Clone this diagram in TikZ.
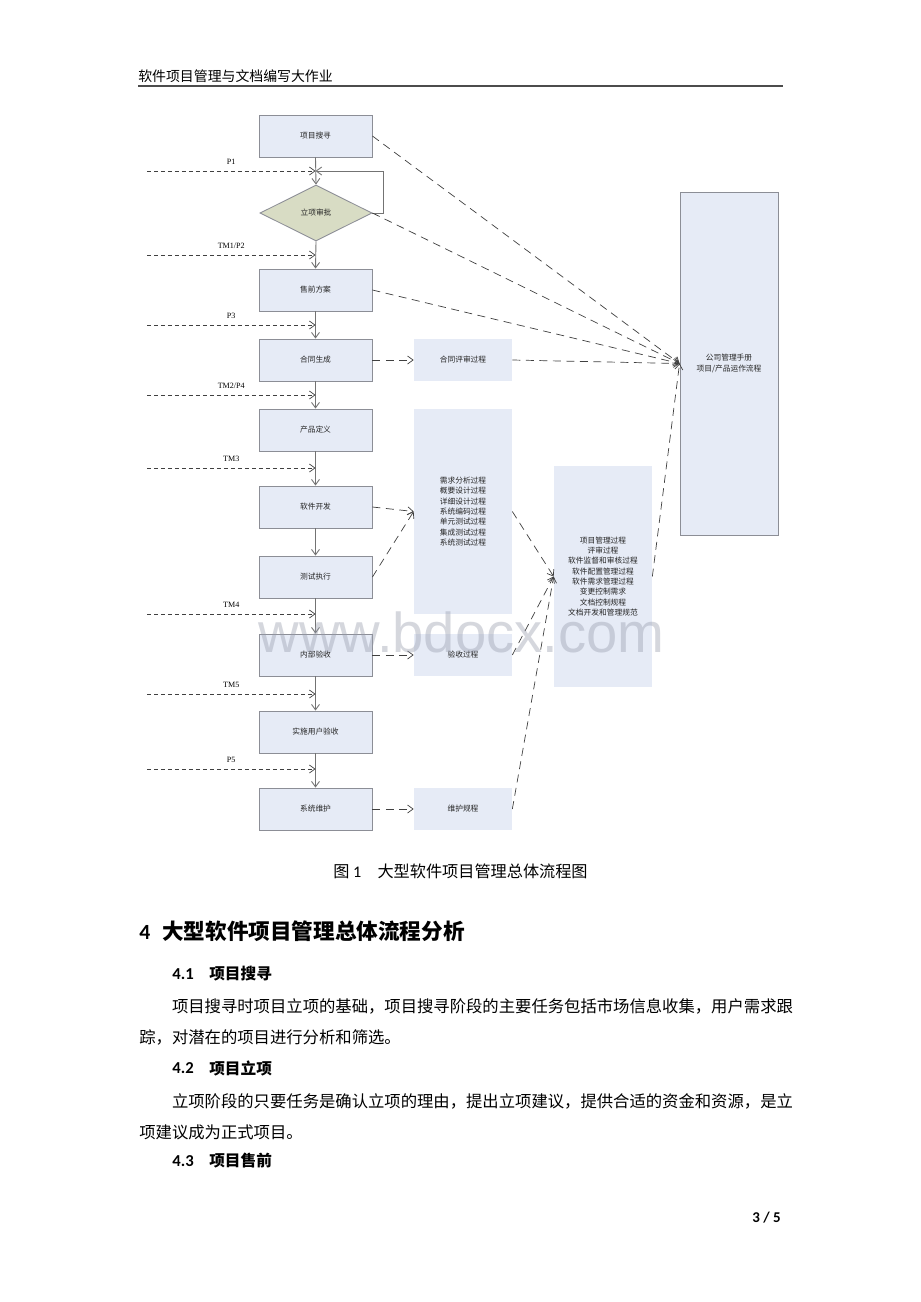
\documentclass[tikz,border=0pt]{standalone}
\usepackage{fontspec}
\setmainfont{Liberation Serif}
\newfontfamily\cjk{Noto Sans CJK SC}
\newfontfamily\cali{Carlito}
\newfontfamily\wmfont{Liberation Sans}
\usetikzlibrary{arrows.meta, shapes.geometric}
\XeTeXlinebreaklocale "zh"
\XeTeXlinebreakskip=0pt plus 1pt minus 1pt
\definecolor{boxblue}{RGB}{230,235,246}
\definecolor{boxline}{RGB}{140,142,150}
\definecolor{diaolive}{RGB}{216,220,196}
\definecolor{wmgray}{RGB}{150,155,172}

\begin{document}
\begin{tikzpicture}[x=0.02cm, y=-0.02cm,
  tiny/.style={font=\cjk\fontsize{4.4}{5.9}\selectfont, text=black!85},
  box/.style={tiny, draw=boxline, line width=0.5pt, fill=boxblue, minimum width=2.26cm, minimum height=0.84cm},
  procbox/.style={tiny, fill=boxblue, minimum width=1.96cm, minimum height=0.84cm, align=center},
  flow/.style={draw=black!55, line width=0.5pt, -{Straight Barb[length=1.1mm,width=1.6mm]}},
  feed/.style={draw=black!75, line width=0.4pt, dash pattern=on 0.8mm off 0.6mm, -{Straight Barb[length=1.1mm,width=1.6mm]}},
  ref/.style={draw=black!75, line width=0.4pt, dash pattern=on 1.6mm off 1.1mm, -{Straight Barb[length=1.1mm,width=1.6mm]}},
  txt/.style={anchor=west, inner sep=0pt},
  body/.style={txt, font=\cjk\fontsize{9.3}{11}\selectfont}]
\fill[white] (0,0) rectangle (920,1302);
\useasboundingbox (0,0) rectangle (920,1302);

\node[txt, font=\cjk\fontsize{7.9}{9}\selectfont] (header) at (138,76) {软件项目管理与文档编写大作业};
\draw[black!70, line width=0.9pt] (138,86) -- (783,86);

\node[box] (search) at (315.5,136) {项目搜寻};
\node[tiny, diamond, draw=boxline, line width=0.5pt, fill=diaolive, aspect=2, inner sep=0pt, minimum width=2.24cm, minimum height=1.12cm] (approve) at (316,213) {立项审批};
\node[box] (presale) at (315.5,290) {售前方案};
\node[box] (contract) at (315.5,360) {合同生成};
\node[box] (define) at (315.5,430) {产品定义};
\node[box] (develop) at (315.5,507) {软件开发};
\node[box] (test) at (315.5,577) {测试执行};
\node[box] (inner) at (315.5,655) {内部验收};
\node[box] (useracc) at (315.5,732) {实施用户验收};
\node[box] (maintain) at (315.5,809) {系统维护};

\node[procbox] (review) at (463,360) {合同评审过程};
\node[procbox, minimum height=4.1cm] (procs) at (463,511.5) {需求分析过程\\概要设计过程\\详细设计过程\\系统编码过程\\单元测试过程\\集成测试过程\\系统测试过程};
\node[procbox] (accproc) at (463,655) {验收过程};
\node[procbox] (mainproc) at (463,809) {维护规程};
\node[procbox, minimum height=4.42cm] (mgmt) at (603,576.5) {项目管理过程\\评审过程\\软件监督和审核过程\\软件配置管理过程\\软件需求管理过程\\变更控制需求\\文档控制规程\\文档开发和管理规范};
\node[procbox, draw=boxline, line width=0.5pt, minimum height=6.86cm] (manual) at (729,363.5) {公司管理手册\\项目/产品运作流程};

\foreach \a/\b in {search/approve, approve/presale, presale/contract, contract/define, define/develop, develop/test, test/inner, inner/useracc, useracc/maintain}
  \draw[flow] (\a.south) -- (\b.north);

\foreach \yy/\lab [count=\k] in {171/P1, 255/{TM1/P2}, 325/P3, 395/{TM2/P4}, 468/TM3, 614/TM4, 694/TM5, 769/P5}{
  \coordinate (feed\k) at (147,\yy);
  \draw[feed] (feed\k) -- (feed\k -| search.south) node[midway, above=0.2pt, font=\fontsize{4.6}{5}\selectfont] {\lab};
}
\coordinate (loop) at (383,171);
\draw[flow] (approve.east) -| (loop) -- (feed1 -| search.south);

\foreach \a in {search, approve, presale, review, mgmt}
  \draw[ref] (\a.east) -- (manual.west);
\foreach \a/\b in {contract/review, develop/procs, test/procs, inner/accproc, maintain/mainproc, procs/mgmt, accproc/mgmt, mainproc/mgmt}
  \draw[ref] (\a.east) -- (\b.west);

\node[txt, font=\cjk\fontsize{9.2}{10}\selectfont] (caption) at (333,871) {图{\cali\ 1}\hspace{1em}大型软件项目管理总体流程图};
\node[txt, font=\cjk\bfseries\fontsize{12.3}{14}\selectfont] (section) at (139,931) {{\cali\bfseries 4}\hspace{0.55em}大型软件项目管理总体流程分析};
\foreach \yy/\num/\ttl [count=\k] in {974/4.1/项目搜寻, 1068/4.2/项目立项, 1161/4.3/项目售前}{
  \node[txt, font=\cali\bfseries\fontsize{9.5}{11}\selectfont] (subnum\k) at (172,\yy) {\num};
  \node[txt, font=\cjk\bfseries\fontsize{8.9}{10}\selectfont] (subttl\k) at (209,\yy) {\ttl};
}
\node[body] (para1a) at (139,1006) {\makebox[12.82cm][s]{\hspace*{2em}项目搜寻时项目立项的基础，项目搜寻阶段的主要任务包括市场信息收集，用户需求跟}};
\node[body] (para1b) at (139,1037) {踪，对潜在的项目进行分析和筛选。};
\node[body] (para2a) at (139,1101) {\makebox[12.82cm][s]{\hspace*{2em}立项阶段的只要任务是确认立项的理由，提出立项建议，提供合适的资金和资源，是立}};
\node[body] (para2b) at (139,1132) {项建议成为正式项目。};

\node[txt, font=\cali\bfseries\fontsize{8.5}{10}\selectfont] (pagenum) at (752,1218) {3 / 5};
\node[font=\wmfont\fontsize{32}{34}\selectfont, text=wmgray, text opacity=0.4] (wm) at (461.5,632) {www.bdocx.com};
\end{tikzpicture}
\end{document}
